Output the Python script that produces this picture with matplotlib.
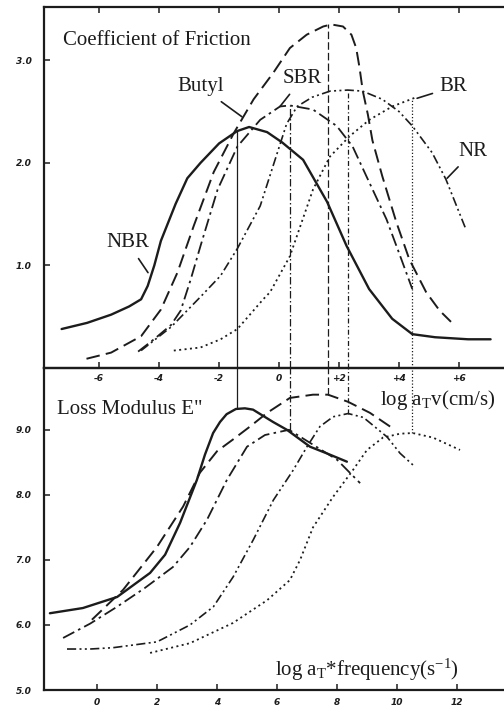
import numpy as np
import matplotlib.pyplot as plt

plt.rcParams["font.family"] = "Liberation Serif"
plt.rcParams["mathtext.fontset"] = "custom"
plt.rcParams["mathtext.rm"] = "Liberation Serif"
plt.rcParams["mathtext.it"] = "Liberation Serif:italic"

INK = "#1c1c1c"

# --- friction coefficient vs log aT*v (cm/s) --------------------------------
nbr_v = [-7.25, -6.4, -5.6, -5.0, -4.6, -4.38, -4.16, -3.94, -3.45, -3.06, -2.62, -2.0,
         -1.4, -1.0, -0.4, 0.1, 0.8, 1.6, 2.25, 3.0, 3.77, 4.44, 5.2, 6.3, 7.05]
nbr_mu = [0.38, 0.44, 0.52, 0.60, 0.67, 0.80, 1.00, 1.24, 1.60, 1.85, 2.00, 2.19,
          2.31, 2.35, 2.30, 2.20, 2.03, 1.62, 1.19, 0.77, 0.48, 0.33, 0.30, 0.28, 0.28]

butyl_v = [-6.42, -5.6, -4.6, -3.94, -3.39, -2.84, -2.18, -1.51, -0.85, -0.19, 0.36, 0.92,
           1.47, 1.74, 2.13, 2.41, 2.57, 2.68, 2.79, 2.96, 3.11, 3.44, 3.91, 4.34, 4.90,
           5.35, 5.73]
butyl_mu = [0.09, 0.15, 0.31, 0.57, 0.93, 1.39, 1.91, 2.29, 2.62, 2.88, 3.12, 3.25,
            3.33, 3.35, 3.33, 3.25, 3.12, 2.93, 2.70, 2.47, 2.22, 1.87, 1.42, 1.06, 0.74,
            0.56, 0.45]

sbr_v = [-4.70, -4.17, -3.6, -3.28, -2.95, -2.62, -2.05, -1.39, -0.63, 0.03, 0.36, 1.13,
         1.92, 2.45, 2.91, 3.58, 4.0, 4.44]
sbr_mu = [0.16, 0.28, 0.42, 0.56, 0.86, 1.19, 1.74, 2.16, 2.42, 2.55, 2.56, 2.52,
          2.36, 2.16, 1.87, 1.45, 1.12, 0.77]

nr_v = [-4.6, -3.6, -2.6, -1.95, -1.40, -0.63, -0.08, 0.25, 0.6, 1.1, 1.7, 2.29,
        2.78, 3.44, 4.0, 4.44, 5.10, 5.56, 6.23]
nr_mu = [0.17, 0.40, 0.70, 0.90, 1.16, 1.58, 2.08, 2.38, 2.55, 2.64, 2.70, 2.71,
         2.70, 2.62, 2.50, 2.36, 2.10, 1.84, 1.35]

br_v = [-3.51, -2.62, -1.95, -1.39, -0.53, -0.3, 0.36, 1.13, 1.69, 2.35, 3.01, 3.77, 4.57]
br_mu = [0.17, 0.20, 0.28, 0.38, 0.67, 0.74, 1.09, 1.74, 2.06, 2.26, 2.42, 2.55, 2.64]

# --- loss modulus log E'' vs log aT*frequency (1/s) ---------------------------
nbr_f = [-1.57, -0.47, 0.67, 1.77, 2.27, 2.77, 3.33, 3.6, 3.87, 4.1, 4.32, 4.63, 4.93,
         5.2, 5.87, 6.33, 7.1, 7.7, 8.33]
nbr_e = [6.18, 6.26, 6.43, 6.80, 7.08, 7.57, 8.23, 8.62, 8.95, 9.12, 9.24, 9.32, 9.33,
         9.31, 9.12, 9.0, 8.74, 8.63, 8.51]

butyl_f = [-0.17, 0.87, 2.0, 2.87, 3.43, 4.0, 4.53, 5.1, 5.67, 6.43, 7.2, 7.7, 8.37, 9.1, 9.77]
butyl_e = [6.08, 6.54, 7.2, 7.82, 8.34, 8.67, 8.85, 9.05, 9.26, 9.49, 9.54, 9.54, 9.43, 9.26, 9.05]

sbr_f = [-1.13, -0.23, 0.67, 1.6, 2.53, 3.1, 3.67, 4.33, 5.0, 5.6, 6.4, 7.1, 8.0, 8.77]
sbr_e = [5.80, 6.02, 6.28, 6.57, 6.89, 7.2, 7.62, 8.23, 8.74, 8.92, 9.0, 8.8, 8.54, 8.18]

nr_f = [-1.0, -0.23, 0.53, 2.0, 3.1, 3.88, 4.54, 5.21, 5.88, 6.54, 7.0, 7.43, 7.87,
        8.37, 8.88, 9.67, 10.1, 10.53]
nr_e = [5.63, 5.63, 5.65, 5.74, 6.0, 6.28, 6.74, 7.31, 7.92, 8.38, 8.74, 9.05, 9.2,
        9.25, 9.19, 8.89, 8.64, 8.46]

br_f = [1.77, 3.1, 4.53, 5.67, 6.43, 6.77, 7.2, 7.87, 8.53, 9.0, 9.53, 10.1, 10.53, 11.2, 12.1]
br_e = [5.57, 5.72, 6.03, 6.38, 6.69, 7.0, 7.5, 7.97, 8.38, 8.69, 8.88, 8.94, 8.95, 8.88, 8.69]

# drop lines linking each friction peak to its loss modulus peak
materials = ["NBR", "SBR", "Butyl", "NR", "BR"]
drop_v = [-1.42, 0.36, 1.62, 2.28, 4.44]
drop_mu = [2.31, 2.56, 3.35, 2.71, 2.62]
drop_e = [9.32, 9.00, 9.54, 9.25, 8.95]

# log(aT*f) = log(aT*v) + V_TO_F
V_TO_F = 6.07

v_ticks = [-6, -4, -2, 0, 2, 4, 6]
v_ticklabels = ["-6", "-4", "-2", "0", "+2", "+4", "+6"]
mu_ticks = [1.0, 2.0, 3.0]
f_ticks = [0, 2, 4, 6, 8, 10, 12]
e_ticks = [5.0, 6.0, 7.0, 8.0, 9.0]

styles = {
    "NBR": dict(ls="-", lw=1.7),
    "Butyl": dict(ls=(0, (7, 3.2)), lw=1.4),
    "SBR": dict(ls=(0, (7, 2.4, 1.4, 2.4)), lw=1.3),
    "NR": dict(ls=(0, (5.5, 2, 1.2, 2, 1.2, 2)), lw=1.2),
    "BR": dict(ls=(0, (1.1, 1.9)), lw=1.3),
}
drop_styles = {
    "NBR": "-",
    "SBR": (0, (6, 2, 1.2, 2)),
    "Butyl": (0, (6, 2.5)),
    "NR": (0, (4, 2, 1, 2)),
    "BR": (0, (1, 1.6)),
}

friction = {"NBR": (nbr_v, nbr_mu), "Butyl": (butyl_v, butyl_mu), "SBR": (sbr_v, sbr_mu),
            "NR": (nr_v, nr_mu), "BR": (br_v, br_mu)}
modulus = {"NBR": (nbr_f, nbr_e), "Butyl": (butyl_f, butyl_e), "SBR": (sbr_f, sbr_e),
           "NR": (nr_f, nr_e), "BR": (br_f, br_e)}

fig = plt.figure(figsize=(5.04, 7.10), dpi=100)
W, H = 504, 710
left, right = 44, 512
ax_top = fig.add_axes([left / W, 1 - 368 / H, (right - left) / W, (368 - 7) / H])
ax_bot = fig.add_axes([left / W, 1 - 690 / H, (right - left) / W, (690 - 368) / H])

f_lim = ((left - 97) / 30.0, (right - 97) / 30.0)
ax_bot.set_xlim(*f_lim)
ax_top.set_xlim(f_lim[0] - V_TO_F, f_lim[1] - V_TO_F)
ax_top.set_ylim(0.0, 3.52)
ax_bot.set_ylim(5.0, 9.95)

line_kw = dict(color=INK, solid_capstyle="round", solid_joinstyle="round",
               dash_capstyle="butt", dash_joinstyle="round")
for name, (x, y) in friction.items():
    ax_top.plot(x, y, **line_kw, **styles[name])
for name, (x, y) in modulus.items():
    ax_bot.plot(x, y, **line_kw, **styles[name])

e_top = ax_bot.get_ylim()[1]
for name, x, mu, e in zip(materials, drop_v, drop_mu, drop_e):
    ax_top.vlines(x, 0, mu, colors=INK, linestyles=[drop_styles[name]], lw=0.9)
    ax_bot.vlines(x + V_TO_F, e, e_top, colors=INK, linestyles=[drop_styles[name]], lw=0.9)

# curve labels with leader lines
label_kw = dict(fontsize=15, color=INK, ha="center", va="center",
                arrowprops=dict(arrowstyle="-", color=INK, lw=1.2, shrinkA=3, shrinkB=0))
ax_top.annotate("Butyl", xy=(-1.24, 2.45), xytext=(-2.60, 2.74), **label_kw)
ax_top.annotate("SBR", xy=(0.03, 2.55), xytext=(0.76, 2.82), **label_kw)
ax_top.annotate("BR", xy=(4.60, 2.63), xytext=(5.80, 2.74), **label_kw)
ax_top.annotate("NR", xy=(5.60, 1.85), xytext=(6.46, 2.11), **label_kw)
ax_top.annotate("NBR", xy=(-4.37, 0.93), xytext=(-5.04, 1.22), **label_kw)

ax_top.text(0.041, 0.906, "Coefficient of Friction", transform=ax_top.transAxes,
            fontsize=15, color=INK, ha="left", va="center")
ax_bot.text(0.028, 0.87, "Loss Modulus E\"", transform=ax_bot.transAxes,
            fontsize=15, color=INK, ha="left", va="center")
ax_bot.text(0.718, 0.902, r"log a$_\mathregular{T}$v(cm/s)", transform=ax_bot.transAxes,
            fontsize=15, color=INK, ha="left", va="center")
ax_bot.text(0.494, 0.062, r"log a$_\mathregular{T}$*frequency(s$^\mathregular{-1}$)",
            transform=ax_bot.transAxes, fontsize=15, color=INK, ha="left", va="center")

tick_font = dict(family="DejaVu Sans", weight="bold", style="italic", size=6.5)

for ax in (ax_top, ax_bot):
    ax.patch.set_visible(False)
    ax.spines["right"].set_visible(False)
    for s in ("left", "top", "bottom"):
        ax.spines[s].set_linewidth(1.6)
        ax.spines[s].set_color(INK)
    ax.tick_params(direction="in", length=4, width=1.1, color=INK, labelcolor=INK)

ax_top.set_xticks(v_ticks)
ax_top.set_xticklabels(v_ticklabels, fontdict=tick_font)
ax_top.tick_params(axis="x", top=True, bottom=True, pad=4)
ax_top.set_yticks(mu_ticks)
ax_top.set_yticklabels([f"{t:.1f}" for t in mu_ticks], fontdict=tick_font)
ax_top.tick_params(axis="y", pad=9)

ax_bot.set_xticks(f_ticks)
ax_bot.set_xticklabels([str(t) for t in f_ticks], fontdict=tick_font)
ax_bot.tick_params(axis="x", pad=6)
ax_bot.set_yticks(e_ticks)
ax_bot.set_yticklabels([f"{t:.1f}" for t in e_ticks], fontdict=tick_font)
ax_bot.tick_params(axis="y", pad=9)

fig.savefig("out.png", dpi=100, facecolor="white")
